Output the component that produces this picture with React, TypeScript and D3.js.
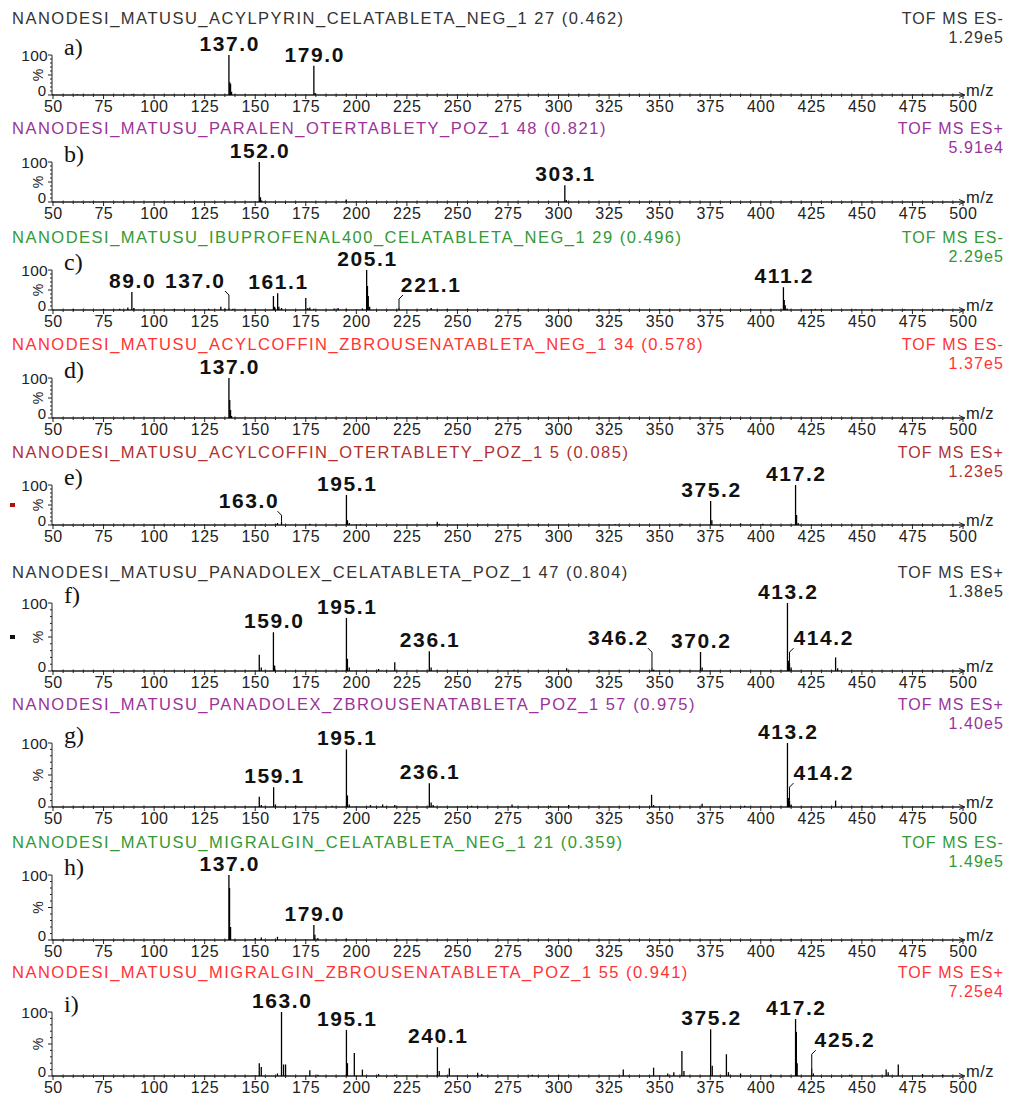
import React from "react";
import * as d3 from "d3";

// ---------- DATA ----------
const titles = [
  "NANODESI_MATUSU_ACYLPYRIN_CELATABLETA_NEG_1 27 (0.462)",
  "NANODESI_MATUSU_PARALEN_OTERTABLETY_POZ_1 48 (0.821)",
  "NANODESI_MATUSU_IBUPROFENAL400_CELATABLETA_NEG_1 29 (0.496)",
  "NANODESI_MATUSU_ACYLCOFFIN_ZBROUSENATABLETA_NEG_1 34 (0.578)",
  "NANODESI_MATUSU_ACYLCOFFIN_OTERTABLETY_POZ_1 5 (0.085)",
  "NANODESI_MATUSU_PANADOLEX_CELATABLETA_POZ_1 47 (0.804)",
  "NANODESI_MATUSU_PANADOLEX_ZBROUSENATABLETA_POZ_1 57 (0.975)",
  "NANODESI_MATUSU_MIGRALGIN_CELATABLETA_NEG_1 21 (0.359)",
  "NANODESI_MATUSU_MIGRALGIN_ZBROUSENATABLETA_POZ_1 55 (0.941)",
];
const modes = ["TOF MS ES-", "TOF MS ES+", "TOF MS ES-", "TOF MS ES-", "TOF MS ES+", "TOF MS ES+", "TOF MS ES+", "TOF MS ES-", "TOF MS ES+"];
const maxIntensities = ["1.29e5", "5.91e4", "2.29e5", "1.37e5", "1.23e5", "1.38e5", "1.40e5", "1.49e5", "7.25e4"];
const panelLetters = ["a)", "b)", "c)", "d)", "e)", "f)", "g)", "h)", "i)"];
const titleColors = ["#333333", "#993399", "#339933", "#ff3333", "#b03030", "#333333", "#993399", "#339933", "#ff3333"];

const xTicks = [50, 75, 100, 125, 150, 175, 200, 225, 250, 275, 300, 325, 350, 375, 400, 425, 450, 475, 500];

// spectra: [m/z, relative intensity %]
const specA: [number, number][] = [
  [62, 2], [89, 2], [137.0, 100], [137.4, 32], [137.8, 28], [138.3, 8], [179.0, 73], [179.6, 5], [195, 1],
];
const specB: [number, number][] = [
  [110, 1], [152.0, 100], [152.6, 12], [153.2, 4], [195, 6], [303.1, 42], [303.8, 5], [346, 3], [415, 1],
];
const specC: [number, number][] = [
  [60, 2], [66, 1], [75, 3], [83, 3], [87, 6], [89.0, 45], [90, 5], [100, 2], [110, 2], [120, 2], [127, 3],
  [133, 8], [135, 4], [137.0, 5], [139, 3], [145, 2], [150, 3], [159, 35], [159.6, 8], [161.1, 42], [161.7, 8],
  [163, 5], [175, 30], [176, 5], [177, 6], [179, 3], [189, 4], [191, 5], [195, 3], [203, 4], [205.1, 100],
  [205.5, 60], [205.9, 35], [206.6, 8], [221.1, 6], [237, 5], [245, 2], [255, 2], [263, 2], [280, 2], [300, 2],
  [317, 2], [329, 2], [350, 2], [380, 2], [395, 2], [411.2, 57], [411.6, 25], [412.1, 12], [413, 4], [427, 3],
  [430, 2], [447, 2], [455, 2], [460, 2], [471, 2], [488, 2], [490, 2],
];
const specD: [number, number][] = [
  [90, 1], [137.0, 100], [137.4, 45], [137.8, 20], [138.3, 5], [153, 1],
];
const specE: [number, number][] = [
  [153, 2], [161, 5], [163.0, 8], [177, 3], [195.1, 75], [195.6, 12], [196.5, 5], [202, 2], [240, 8], [241, 3],
  [260, 2], [290, 2], [328, 2], [361, 3], [375.2, 60], [375.8, 12], [390, 4], [401, 3], [417.2, 100],
  [417.7, 25], [418.5, 5], [463, 2], [480, 2],
];
const specF: [number, number][] = [
  [152, 24], [153, 5], [159.0, 57], [159.6, 8], [195.1, 78], [195.6, 18], [196.5, 5], [211, 3], [219, 13],
  [236.1, 29], [237, 5], [278, 2], [304, 4], [346.2, 5], [347, 2], [370.2, 28], [371, 5], [413.2, 100],
  [413.7, 15], [414.2, 12], [415, 5], [437, 20], [438, 4],
];
const specG: [number, number][] = [
  [152, 16], [153, 3], [159.1, 31], [160, 4], [170, 2], [188, 2], [195.1, 90], [195.6, 18], [196.5, 4],
  [207, 3], [213, 4], [219, 3], [236.1, 37], [237, 7], [238, 3], [257, 2], [277, 4], [296, 2], [305, 3],
  [346, 19], [347, 3], [371, 5], [392, 2], [413.2, 100], [413.7, 14], [414.2, 10], [415, 4], [437, 10],
  [450, 2], [460, 2], [480, 2],
];
const specH: [number, number][] = [
  [137.0, 100], [137.3, 80], [137.8, 20], [150, 3], [153, 4], [161, 5], [179.0, 23], [179.5, 8], [181, 3],
  [195, 2], [220, 1], [283, 1], [350, 1], [415, 1],
];
const specI: [number, number][] = [
  [152, 20], [153, 14], [161, 4], [163.0, 100], [164, 18], [165, 18], [177, 9], [181, 2], [195.1, 72],
  [195.6, 20], [199, 36], [203, 10], [211, 3], [219, 2], [240.1, 45], [241, 8], [246, 12], [260, 5], [262, 3],
  [287, 2], [300, 2], [332, 10], [347, 13], [354, 4], [357, 6], [361, 39], [362, 8], [375.2, 73], [376, 16],
  [383, 34], [384, 6], [390, 4], [405, 2], [417.2, 89], [417.6, 69], [418, 20], [425.2, 12], [426, 4],
  [444, 2], [462, 10], [463, 6], [468, 18], [480, 3], [490, 2],
];

// peak labels: text, m/z, label offset (m/z units), label baseline height (%) (null = above peak)
type PeakLabel = { mz: number; text: string; dx: number; at: number | null };
const labelsA: PeakLabel[] = [
  { mz: 137.0, text: "137.0", dx: 0, at: null },
  { mz: 179.0, text: "179.0", dx: 0, at: null },
];
const labelsB: PeakLabel[] = [
  { mz: 152.0, text: "152.0", dx: 0, at: null },
  { mz: 303.1, text: "303.1", dx: 0, at: null },
];
const labelsC: PeakLabel[] = [
  { mz: 89.0, text: "89.0", dx: 0, at: null },
  { mz: 137.0, text: "137.0", dx: -17, at: 55 },
  { mz: 161.1, text: "161.1", dx: 0, at: null },
  { mz: 205.1, text: "205.1", dx: 0, at: null },
  { mz: 221.1, text: "221.1", dx: 15.5, at: 45 },
  { mz: 411.2, text: "411.2", dx: 0, at: null },
];
const labelsD: PeakLabel[] = [{ mz: 137.0, text: "137.0", dx: 0, at: null }];
const labelsE: PeakLabel[] = [
  { mz: 163.0, text: "163.0", dx: -16.5, at: 42 },
  { mz: 195.1, text: "195.1", dx: 0, at: null },
  { mz: 375.2, text: "375.2", dx: 0, at: null },
  { mz: 417.2, text: "417.2", dx: 0, at: null },
];
const labelsF: PeakLabel[] = [
  { mz: 159.0, text: "159.0", dx: 0, at: null },
  { mz: 195.1, text: "195.1", dx: 0, at: null },
  { mz: 236.1, text: "236.1", dx: 0, at: null },
  { mz: 346.2, text: "346.2", dx: -17, at: 38 },
  { mz: 370.2, text: "370.2", dx: 0, at: null },
  { mz: 413.2, text: "413.2", dx: 0, at: null },
  { mz: 414.2, text: "414.2", dx: 16.5, at: 38 },
];
const labelsG: PeakLabel[] = [
  { mz: 159.1, text: "159.1", dx: 0, at: null },
  { mz: 195.1, text: "195.1", dx: 0, at: null },
  { mz: 236.1, text: "236.1", dx: 0, at: null },
  { mz: 413.2, text: "413.2", dx: 0, at: null },
  { mz: 414.2, text: "414.2", dx: 16.5, at: 42 },
];
const labelsH: PeakLabel[] = [
  { mz: 137.0, text: "137.0", dx: 0, at: null },
  { mz: 179.0, text: "179.0", dx: 0, at: null },
];
const labelsI: PeakLabel[] = [
  { mz: 163.0, text: "163.0", dx: 0, at: null },
  { mz: 195.1, text: "195.1", dx: 0, at: null },
  { mz: 240.1, text: "240.1", dx: 0, at: null },
  { mz: 375.2, text: "375.2", dx: 0, at: null },
  { mz: 417.2, text: "417.2", dx: 0, at: null },
  { mz: 425.2, text: "425.2", dx: 16, at: 45 },
];

const spectra = [specA, specB, specC, specD, specE, specF, specG, specH, specI];
const peakLabels = [labelsA, labelsB, labelsC, labelsD, labelsE, labelsF, labelsG, labelsH, labelsI];
const markerColors: (string | null)[] = [null, null, null, null, "#b01010", "#111111", null, null, null];

// ---------- LAYOUT ----------
const W = 1010;
const H = 1097;
const layout = [
  { title: 18, top: 55, base: 95 },
  { title: 128, top: 162, base: 202 },
  { title: 237, top: 270, base: 310 },
  { title: 344, top: 378, base: 418 },
  { title: 452, top: 485, base: 525 },
  { title: 572, top: 603, base: 671 },
  { title: 704, top: 743, base: 807 },
  { title: 842, top: 875, base: 940 },
  { title: 972, top: 1012, base: 1076 },
];

const SANS = "'Liberation Sans', Arial, sans-serif";
const SERIF = "'Liberation Serif', 'Times New Roman', serif";
const AXIS = "#222";

const xScale = d3.scaleLinear().domain([50, 500]).range([53, 963]);
const minorX = d3.range(50, 501, 5);

function Panel({ i }: { i: number }) {
  const L = layout[i];
  const y = d3.scaleLinear().domain([0, 100]).range([L.base, L.top]);
  const color = titleColors[i];
  const data = spectra[i];
  const labels = peakLabels[i];
  const ax = 52;
  const LS = 1.6;
  const minorY = d3.range(0, 101, 10);
  const intensityOf = (mz: number) => {
    const p = data.find((d) => Math.abs(d[0] - mz) < 0.05);
    return p ? p[1] : 0;
  };
  return (
    <g>
      <text x={12} y={L.title + 6} fill={color} fontFamily={SANS} fontSize={16.5} letterSpacing={1.5}>
        {titles[i]}
      </text>
      <text x={1004} y={L.title + 6} fill={color} fontFamily={SANS} fontSize={16} letterSpacing={1.1} textAnchor="end">
        {modes[i]}
      </text>
      <text x={1004} y={L.title + 25} fill={color} fontFamily={SANS} fontSize={16} letterSpacing={1.1} textAnchor="end">
        {maxIntensities[i]}
      </text>
      {markerColors[i] && (
        <rect x={10} y={(L.top + L.base) / 2 - 2} width={5} height={4} fill={markerColors[i] as string} />
      )}
      {/* panel letter */}
      <text x={64} y={L.top} fontFamily={SERIF} fontSize={24} fill="#111">
        {panelLetters[i]}
      </text>
      {/* y axis */}
      <line x1={ax} x2={ax} y1={L.base} y2={L.top} stroke={AXIS} strokeWidth={1} />
      {minorY.map((v) => (
        <line key={v} x1={ax - (v % 50 === 0 ? 4 : 2)} x2={ax} y1={y(v)} y2={y(v)} stroke={AXIS} strokeWidth={1} />
      ))}
      <text x={48} y={L.top + 6} textAnchor="end" fontFamily={SANS} fontSize={15.5} letterSpacing={0.3} fill={AXIS}>100</text>
      <text x={46} y={L.base + 1} textAnchor="end" fontFamily={SANS} fontSize={15} fill={AXIS}>0</text>
      <text
        transform={`translate(${43},${(L.top + L.base) / 2}) rotate(-90)`}
        textAnchor="middle"
        fontFamily={SANS}
        fontSize={14}
        fill={AXIS}
      >
        %
      </text>
      {/* x axis */}
      <line x1={ax} x2={xScale(500) + 1} y1={L.base} y2={L.base} stroke={AXIS} strokeWidth={1.4} />
      <path
        d={`M${xScale(500) - 4},${L.base - 2.5} L${xScale(500) + 2},${L.base} L${xScale(500) - 4},${L.base + 2.5}`}
        fill="none"
        stroke={AXIS}
        strokeWidth={1}
      />
      {minorX.map((v) => (
        <line
          key={v}
          x1={xScale(v)}
          x2={xScale(v)}
          y1={L.base - (v % 25 === 0 ? 1 : 1.5)}
          y2={L.base + (v % 25 === 0 ? 4 : 2)}
          stroke={AXIS}
          strokeWidth={1}
        />
      ))}
      {xTicks.map((v) => (
        <text key={v} x={xScale(v) + 0.3} y={L.base + 16.5} textAnchor="middle" fontFamily={SANS} fontSize={16} letterSpacing={0.5} fill={AXIS}>
          {v}
        </text>
      ))}
      <text x={966} y={L.base + 1} fontFamily={SANS} fontSize={16.5} fill={AXIS} letterSpacing={0.5}>
        m/z
      </text>
      {/* peaks */}
      {data.map((d, k) => (
        <line key={k} x1={xScale(d[0])} x2={xScale(d[0])} y1={L.base} y2={y(d[1])} stroke="#000" strokeWidth={1.3} />
      ))}
      {/* peak labels */}
      {labels.map((lb, k) => {
        const px = xScale(lb.mz);
        const inten = intensityOf(lb.mz);
        const by = lb.at === null ? y(inten) - 4 : y(lb.at);
        const lx = xScale(lb.mz + lb.dx);
        const side = Math.sign(lb.dx);
        return (
          <g key={k}>
            <text
              x={lx + LS / 2}
              y={by}
              textAnchor="middle"
              fontFamily={SANS}
              fontWeight="bold"
              fontSize={21}
              letterSpacing={LS}
              fill="#111"
            >
              {lb.text}
            </text>
            {lb.at !== null && (
              <path
                d={`M${px + side * 4},${by + 3} L${px},${by + 7} L${px},${y(inten)}`}
                fill="none"
                stroke="#000"
                strokeWidth={1}
              />
            )}
          </g>
        );
      })}
    </g>
  );
}

export default function App() {
  return (
    <svg
      width={W}
      height={H}
      viewBox={`0 0 ${W} ${H}`}
      style={{ position: "absolute", left: 0, top: 0, background: "#fff" }}
    >
      <rect width={W} height={H} fill="#fff" />
      {layout.map((_, i) => (
        <Panel key={i} i={i} />
      ))}
    </svg>
  );
}
